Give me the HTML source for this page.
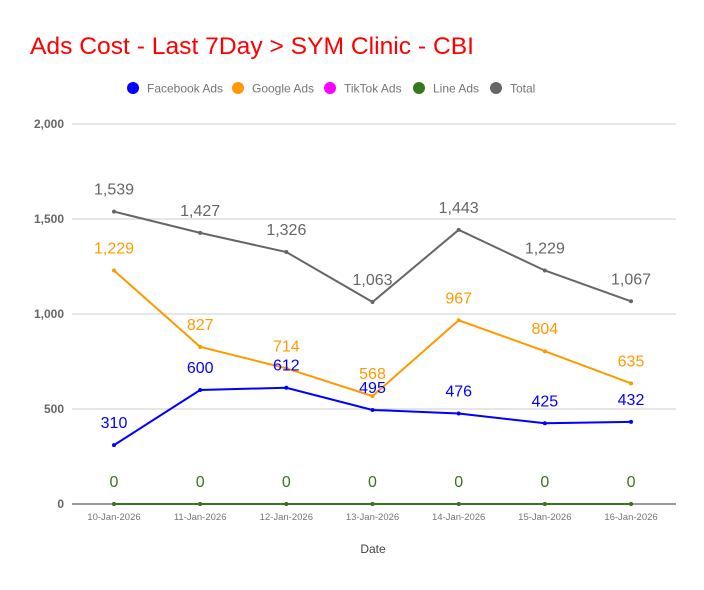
<!DOCTYPE html>
<html><head><meta charset="utf-8"><style>
body{margin:0;background:#fff;width:704px;height:585px;overflow:hidden;font-family:"Liberation Sans",sans-serif}
</style></head><body>
<svg id="chart" width="704" height="585" xmlns="http://www.w3.org/2000/svg" font-family="Liberation Sans, sans-serif">
<text x="30" y="54" font-size="24" fill="#ff0000" textLength="444" lengthAdjust="spacingAndGlyphs">Ads Cost - Last 7Day &gt; SYM Clinic - CBI</text>
<g id="legend" font-size="12" fill="#757575"></g>
<g id="grid"></g>
<g id="plot"></g>
<text x="373" y="553" font-size="12" fill="#444" text-anchor="middle">Date</text>
</svg>
<script>
const categories=["10-Jan-2026","11-Jan-2026","12-Jan-2026","13-Jan-2026","14-Jan-2026","15-Jan-2026","16-Jan-2026"];
const facebookAds=[310,600,612,495,476,425,432];
const googleAds=[1229,827,714,568,967,804,635];
const tiktokAds=[0,0,0,0,0,0,0];
const lineAds=[0,0,0,0,0,0,0];
const totalCost=[1539,1427,1326,1063,1443,1229,1067];
const yTicks=[0,500,1000,1500,2000];
const yTickLabels=["0","500","1,000","1,500","2,000"];
const seriesNames=["Facebook Ads","Google Ads","TikTok Ads","Line Ads","Total"];

const NS="http://www.w3.org/2000/svg";
const x=i=>114+i*86.17;
const y=v=>504-v*0.19;
function mk(tag,attrs,parent){const e=document.createElementNS(NS,tag);for(const k in attrs)e.setAttribute(k,attrs[k]);parent.appendChild(e);return e;}
const grid=document.getElementById('grid'),plot=document.getElementById('plot'),legend=document.getElementById('legend');
yTicks.forEach((t,i)=>{
  const l=mk('line',{x1:72,x2:676,y1:y(t),y2:y(t),stroke:t===0?'#333':'#ccc','stroke-width':1},grid);
  
  
  const tx=mk('text',{x:64,y:y(t)+4,'font-size':12,'font-weight':'bold',fill:'#666','text-anchor':'end'},grid);
  tx.textContent=yTickLabels[i];
  
  
});
categories.forEach((c,i)=>{
  const tx=mk('text',{x:x(i),y:520,'font-size':9.5,fill:'#757575','text-anchor':'middle'},grid);
  tx.textContent=c;
  
  
});
const series=[[tiktokAds,'#ff00ff'],[lineAds,'#38761d'],[facebookAds,'#0000ff'],[googleAds,'#ff9900'],[totalCost,'#666666']];
series.forEach(([data,col])=>{
  const pts=data.map((v,i)=>x(i)+','+y(v)).join(' ');
  const pl=mk('polyline',{points:pts,fill:'none',stroke:col,'stroke-width':2},plot);
  
  
  data.forEach((v,i)=>{
    const c=mk('circle',{cx:x(i),cy:y(v),r:2,fill:col},plot);
    
    
  });
});
[[facebookAds,'#0000ff'],[googleAds,'#ff9900'],[totalCost,'#666666'],[lineAds,'#38761d']].forEach(([data,col])=>{
  data.forEach((v,i)=>{
    const t=mk('text',{x:x(i),y:y(v)-17,'font-size':16,fill:col,'text-anchor':'middle'},plot);
    t.textContent=v.toLocaleString('en-US');
    
    
  });
});
const legendX=[133,238,330,419,496];
const legendCols=['#0000ff','#ff9900','#ff00ff','#38761d','#666666'];
seriesNames.forEach((n,i)=>{
  const c=mk('circle',{cx:legendX[i],cy:88,r:6,fill:legendCols[i]},legend);
  
  
  const t=mk('text',{x:legendX[i]+14,y:92.5},legend);
  t.textContent=n;
  
  
});
</script>
</body></html>
